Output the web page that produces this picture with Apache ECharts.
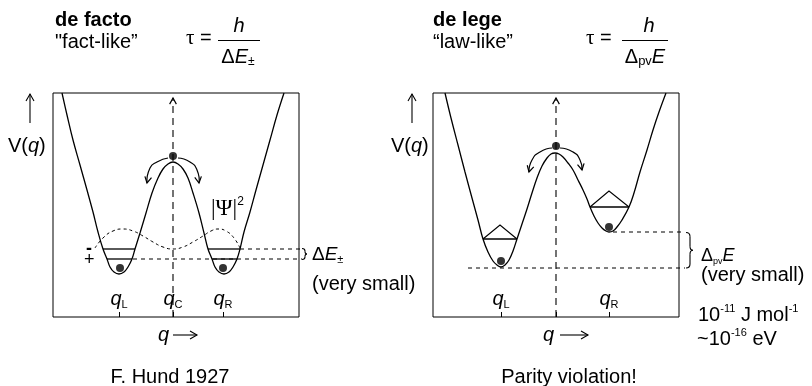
<!DOCTYPE html>
<html><head><meta charset="utf-8">
<script src="https://cdn.jsdelivr.net/npm/echarts@6/dist/echarts.min.js"></script>
<style>html,body{margin:0;padding:0;background:#fff}#c{width:812px;height:386px}</style>
</head><body><div id="c"></div>
<script>
// ---------- data (q relative to q_C, V relative to box bottom) ----------
const potentialLeft = [[-111,224],[-106,202],[-100,177],[-93,152],[-86,127],[-80,105],[-75,85],[-70,68],[-66,58],[-63,50],[-59,45],[-54,43],[-49,45],[-45,50],[-41,58],[-38,68],[-33,84],[-27,104],[-21,124],[-15,139],[-10,148],[-5,153],[0,155],[5,153],[10,148],[15,139],[20,124],[26,104],[31,84],[35,68],[39,58],[42,50],[46,45],[51,43],[56,45],[60,50],[64,58],[67,68],[71,85],[77,105],[83,127],[90,152],[97,177],[104,202],[111,224]];
const levelsLeft = [[[-70,68],[-38,68]],[[-66,58],[-41,58]],[[35,68],[67,68]],[[39,58],[64,58]]];
const dashedLeft = [[[-40,58],[129,58]],[[67,68],[129,68]]];
const psiLeft = [[-78,69],[-70,79],[-60,86],[-50,88],[-40,86],[-30,81],[-20,75],[-10,70],[0,68],[10,70],[20,75],[30,81],[38,86],[45,88],[53,86],[61,79],[67,69]];
const dotsLeft = [[-53,49],[50,49],[0,161]];
const arrowsLeft = [[-5,159,-16,155,-23,149,-26,134],[5,159,17,155,24,147,26,134]];
const axisArrowLeft = [[0,0,0,80,0,160,0,219]];
const ticksLeft = [-54,0,50];
const tickNamesLeft = ['L','C','R'];

const potentialRight = [[-111,224],[-105,199],[-98,172],[-91,145],[-84,119],[-78,97],[-73,78],[-68,65],[-63,56],[-59,52],[-55,50],[-51,52],[-47,57],[-43,66],[-39,78],[-34,93],[-29,108],[-24,124],[-19,139],[-14,151],[-9,159],[-5,163],[-1,164],[3,163],[7,160],[12,154],[17,147],[22,137],[27,127],[31,118],[34,110],[38,101],[42,94],[46,89],[50,86],[53,85],[57,86],[61,90],[66,97],[73,110],[78,124],[84,145],[91,167],[97,187],[103,205],[110,224]];
const levelsRight = [[[-73,78],[-39,78]],[[34,110],[73,110]]];
const packetsRight = [[[-73,78],[-56,92],[-39,78]],[[34,110],[53,126],[73,110]]];
const dashedRight = [[[57,85],[129,85]],[[-88,49],[129,49]]];
const dotsRight = [[-55,56],[53,90],[0,171]];
const arrowsRight = [[-4,169,-16,165,-24,157,-27,145],[4,169,17,165,24,157,26,147]];
const axisArrowRight = [[0,0,0,80,0,160,0,219]];
const ticksRight = [-55,0,53];
const tickNamesRight = ['L','','R'];

// ---------- helpers ----------
const SANS = 'Liberation Sans', SERIF = 'Liberation Serif';
function arrowRender(dashed, smooth) {
  return function (params, api) {
    const pts = [];
    for (let i = 0; i < 4; i++) pts.push(api.coord([api.value(2 * i), api.value(2 * i + 1)]));
    const a = pts[3], b = pts[2];
    const ang = Math.atan2(a[1] - b[1], a[0] - b[0]);
    const L = 7, w = 0.5;
    const h1 = [a[0] - L * Math.cos(ang - w), a[1] - L * Math.sin(ang - w)];
    const h2 = [a[0] - L * Math.cos(ang + w), a[1] - L * Math.sin(ang + w)];
    return { type: 'group', children: [
      { type: 'polyline', shape: { points: pts, smooth: smooth }, style: { fill: 'none', stroke: '#000', lineWidth: dashed ? 1.1 : 1.2, lineDash: dashed ? [7, 5] : null } },
      { type: 'polyline', shape: { points: [h1, a, h2] }, style: { fill: 'none', stroke: '#000', lineWidth: 1.2 } }
    ]};
  };
}
function tickFormatter(ticks, names) {
  return function (v) { const i = ticks.indexOf(v); return '{q|q}{s|' + names[i] + '}'; };
}
const tickRich = {
  q: { fontFamily: SANS, fontStyle: 'italic', fontSize: 20, lineHeight: 22, color: '#000' },
  s: { fontFamily: SANS, fontSize: 11, lineHeight: 12, verticalAlign: 'bottom', color: '#000' }
};
function xAxisFor(gi, min, max, ticks, names) {
  return { gridIndex: gi, type: 'value', min: min, max: max,
    axisLine: { show: false }, splitLine: { show: false },
    axisTick: { show: true, inside: true, length: 5, customValues: ticks, lineStyle: { color: '#000', width: 1 } },
    axisLabel: { show: true, inside: true, margin: 7, customValues: ticks.filter((t, i) => names[i] !== ''),
      formatter: tickFormatter(ticks, names), rich: tickRich } };
}
function seriesFor(gi, pot, levels, dashed, dots, arrows, axisArrow, extra) {
  const base = { xAxisIndex: gi, yAxisIndex: gi, silent: true };
  const s = [
    Object.assign({ type: 'line', data: pot, smooth: 0.4, showSymbol: false, lineStyle: { color: '#000', width: 1.3 } }, base),
    Object.assign({ type: 'lines', coordinateSystem: 'cartesian2d', polyline: true, clip: false,
      data: levels.map(c => ({ coords: c })), lineStyle: { color: '#000', width: 1.3, opacity: 1 } }, base),
    Object.assign({ type: 'lines', coordinateSystem: 'cartesian2d', polyline: true, clip: false,
      data: dashed.map(c => ({ coords: c })), lineStyle: { color: '#000', width: 1, type: [4, 4], opacity: 1 } }, base),
    Object.assign({ type: 'scatter', data: dots, symbolSize: 8, itemStyle: { color: '#000' } }, base),
    Object.assign({ type: 'custom', data: arrows, renderItem: arrowRender(false, 0.6), encode: { x: [0, 2, 4, 6], y: [1, 3, 5, 7] } }, base),
    Object.assign({ type: 'custom', data: axisArrow, renderItem: arrowRender(true, 0), encode: { x: [0, 2, 4, 6], y: [1, 3, 5, 7] } }, base)
  ];
  return s.concat(extra.map(e => Object.assign(e, base)));
}

// ---------- text / decorations ----------
function T(x, y, text, font, extra) {
  return { type: 'text', x: x, y: y, silent: true,
    style: Object.assign({ text: text, font: font, fill: '#000', verticalAlign: 'middle', align: 'left' }, extra || {}) };
}
function R(x, y, text, rich, align) {
  return { type: 'text', x: x, y: y, silent: true,
    style: { text: text, rich: rich, fill: '#000', verticalAlign: 'middle', align: align || 'left' } };
}
function Ln(x1, y1, x2, y2) {
  return { type: 'line', silent: true, shape: { x1: x1, y1: y1, x2: x2, y2: y2 }, style: { stroke: '#000', lineWidth: 1.1 } };
}
function PL(points) {
  return { type: 'polyline', silent: true, shape: { points: points }, style: { fill: 'none', stroke: '#000', lineWidth: 1.1 } };
}
function QB(x1, y1, cx, cy, x2, y2) {
  return { type: 'bezierCurve', silent: true, shape: { x1: x1, y1: y1, x2: x2, y2: y2, cpx1: cx, cpy1: cy }, style: { fill: 'none', stroke: '#000', lineWidth: 1.1 } };
}
function brace(x0, xs, xm, yt, yb, r) {
  const ym = (yt + yb) / 2;
  return [
    QB(x0, yt, xs, yt, xs, yt + r),
    Ln(xs, yt + r, xs, ym - r),
    QB(xs, ym - r, xs, ym, xm, ym),
    QB(xm, ym, xs, ym, xs, ym + r),
    Ln(xs, ym + r, xs, yb - r),
    QB(xs, yb - r, xs, yb, x0, yb)
  ];
}
function upArrow(x, y1, y2) {
  return [Ln(x, y1, x, y2), PL([[x - 4, y2 + 7], [x, y2], [x + 4, y2 + 7]])];
}
function rightArrow(x1, x2, y) {
  return [Ln(x1, y, x2, y), PL([[x2 - 7, y - 4], [x2, y], [x2 - 7, y + 4]])];
}
const sub = (fs) => ({ fontFamily: SANS, fontSize: fs, verticalAlign: 'bottom', lineHeight: fs + 1, color: '#000' });
const sup = (fs) => ({ fontFamily: SANS, fontSize: fs, verticalAlign: 'top', lineHeight: fs + 1, color: '#000' });

const graphics = [
  T(55, 20, 'de facto', 'bold 20px ' + SANS),
  T(55, 42, '"fact-like\u201D', '20px ' + SANS),
  R(186, 38, '{t|\u03C4}{e| =}', { t: { fontFamily: SERIF, fontSize: 21, color: '#000' }, e: { fontFamily: SANS, fontSize: 20, color: '#000' } }),
  T(239, 26, 'h', 'italic 20px ' + SANS, { align: 'center' }),
  Ln(218, 40.5, 260, 40.5),
  R(238, 57, '{d|\u0394}{e|E}{s|\u00B1}', { d: { fontFamily: SANS, fontSize: 20, lineHeight: 22, color: '#000' }, e: { fontFamily: SANS, fontStyle: 'italic', fontSize: 20, lineHeight: 22, color: '#000' }, s: sub(12) }, 'center'),
  R(8, 146, '{n|V(}{i|q}{n|)}', { n: { fontFamily: SANS, fontSize: 20, color: '#000' }, i: { fontFamily: SANS, fontStyle: 'italic', fontSize: 20, color: '#000' } }),
  T(86, 249, '-', 'bold 18px ' + SANS),
  T(84, 260, '+', '18px ' + SANS),
  R(211, 209, '{p|\u007C\u03A8\u007C}{s|2}', { p: { fontFamily: SERIF, fontSize: 23, lineHeight: 26, color: '#000' }, s: sup(12) }),
  R(312, 255, '{d|\u0394}{e|E}{s|\u00B1}', { d: { fontFamily: SANS, fontSize: 19, lineHeight: 21, color: '#000' }, e: { fontFamily: SANS, fontStyle: 'italic', fontSize: 19, lineHeight: 21, color: '#000' }, s: sub(11) }),
  T(312, 284, '(very small)', '20px ' + SANS),
  R(158, 335, '{i|q}', { i: { fontFamily: SANS, fontStyle: 'italic', fontSize: 20, color: '#000' } }),
  T(170, 377, 'F. Hund 1927', '20px ' + SANS, { align: 'center' }),

  T(433, 20, 'de lege', 'bold 20px ' + SANS),
  T(433, 42, '\u201Claw-like\u201D', '20px ' + SANS),
  R(586, 38, '{t|\u03C4}{e| =}', { t: { fontFamily: SERIF, fontSize: 21, color: '#000' }, e: { fontFamily: SANS, fontSize: 20, color: '#000' } }),
  T(649, 26, 'h', 'italic 20px ' + SANS, { align: 'center' }),
  Ln(622, 40.5, 668, 40.5),
  R(645, 57, '{d|\u0394}{s|pv}{e|E}', { d: { fontFamily: SANS, fontSize: 20, lineHeight: 22, color: '#000' }, e: { fontFamily: SANS, fontStyle: 'italic', fontSize: 20, lineHeight: 22, color: '#000' }, s: sub(13) }, 'center'),
  R(391, 146, '{n|V(}{i|q}{n|)}', { n: { fontFamily: SANS, fontSize: 20, color: '#000' }, i: { fontFamily: SANS, fontStyle: 'italic', fontSize: 20, color: '#000' } }),
  R(701, 256, '{d|\u0394}{s|pv}{e|E}', { d: { fontFamily: SANS, fontSize: 18, lineHeight: 20, color: '#000' }, e: { fontFamily: SANS, fontStyle: 'italic', fontSize: 18, lineHeight: 20, color: '#000' }, s: sub(9) }),
  T(701, 275, '(very small)', '20px ' + SANS),
  R(698, 315, '{n|10}{s|-11}{n| J mol}{s|-1}', { n: { fontFamily: SANS, fontSize: 20, lineHeight: 23, color: '#000' }, s: sup(11) }),
  R(697, 339, '{n|~10}{s|-16}{n| eV}', { n: { fontFamily: SANS, fontSize: 20, lineHeight: 23, color: '#000' }, s: sup(11) }),
  R(543, 335, '{i|q}', { i: { fontFamily: SANS, fontStyle: 'italic', fontSize: 20, color: '#000' } }),
  T(569, 377, 'Parity violation!', '20px ' + SANS, { align: 'center' })
].concat(
  upArrow(30, 123, 94), upArrow(412, 123, 94), rightArrow(173, 197, 335), rightArrow(560, 588, 335),
  brace(302, 305, 307, 248.5, 259.5, 2.5), brace(686, 690, 693, 232.5, 268, 4)
);

const chart = echarts.init(document.getElementById('c'), null, { renderer: 'canvas' });
chart.setOption({
  animation: false,
  backgroundColor: '#fff',
  grid: [
    { left: 53, top: 93, width: 246, height: 224, show: true, borderColor: '#000', borderWidth: 1, backgroundColor: 'transparent' },
    { left: 433, top: 93, width: 246, height: 224, show: true, borderColor: '#000', borderWidth: 1, backgroundColor: 'transparent' }
  ],
  xAxis: [xAxisFor(0, -120, 126, ticksLeft, tickNamesLeft), xAxisFor(1, -123, 123, ticksRight, tickNamesRight)],
  yAxis: [
    { gridIndex: 0, type: 'value', min: 0, max: 224, show: false },
    { gridIndex: 1, type: 'value', min: 0, max: 224, show: false }
  ],
  series: seriesFor(0, potentialLeft, levelsLeft, dashedLeft, dotsLeft, arrowsLeft, axisArrowLeft, [
    { type: 'line', data: psiLeft, smooth: 0.5, showSymbol: false, lineStyle: { color: '#000', width: 1, type: [3, 3] } }
  ]).concat(seriesFor(1, potentialRight, levelsRight, dashedRight, dotsRight, arrowsRight, axisArrowRight, [
    { type: 'lines', coordinateSystem: 'cartesian2d', polyline: true, clip: false,
      data: packetsRight.map(c => ({ coords: c })), lineStyle: { color: '#000', width: 1.1, opacity: 1 } }
  ])),
  graphic: graphics
});
</script></body></html>
